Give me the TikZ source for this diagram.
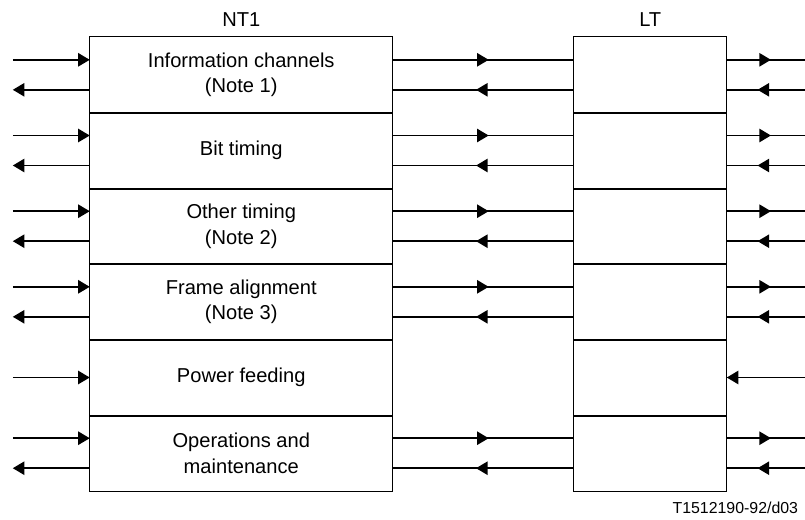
\documentclass[tikz,border=0pt]{standalone}
\usepackage{fontspec}
\setmainfont{Liberation Sans}
\usetikzlibrary{arrows.meta}
\usetikzlibrary{calc}
\usetikzlibrary{decorations.markings}

\begin{document}
\begin{tikzpicture}[x=0.25mm, y=-0.25mm, font=\fontsize{14.3}{18.4}\selectfont,
    cell/.style={rectangle, inner sep=0pt, minimum width=75.6mm, minimum height=18.92mm, align=center},
    ltcell/.style={cell, minimum width=38.1mm},
    outline/.style={line width=0.7pt},
    divider/.style={line width=1.4pt},
    sig/.style={line width=1.4pt},
    endtip/.style={-{Triangle[length=2.9mm, width=3.3mm]}},
    midtip/.style={postaction={decorate}, decoration={markings, mark=at position #1 with {\arrow{Triangle[length=2.9mm, width=3.3mm]}}}}]
  \useasboundingbox (0,0) rectangle (805,519);

  \node (nthead) at (241.25,20) {NT1};
  \node (lthead) at (650.25,20) {LT};

  \node[cell] (nt1) at (241.25,74.8) {Information channels\\(Note 1)};
  \node[cell] (nt2) at (241.25,150.5) {Bit timing};
  \node[cell] (nt3) at (241.25,226.2) {Other timing\\(Note 2)};
  \node[cell] (nt4) at (241.25,301.8) {Frame alignment\\(Note 3)};
  \node[cell] (nt5) at (241.25,377.5) {Power feeding};
  \node[cell] (nt6) at (241.25,453.2) {Operations and\\maintenance};

  \foreach \i/\y in {1/74.8, 2/150.5, 3/226.2, 4/301.8, 5/377.5, 6/453.2}
    \node[ltcell] (lt\i) at (650.25,\y) {};

  \draw[outline] (nt1.north west) rectangle (nt6.south east);
  \draw[outline] (lt1.north west) rectangle (lt6.south east);
  \foreach \i in {1,...,5} {
    \draw[divider] (nt\i.south west) -- (nt\i.south east);
    \draw[divider] (lt\i.south west) -- (lt\i.south east);
  }

  % two-way signals
  \foreach \i in {1,2,3,4,6} {
    \coordinate (inA\i) at ($(nt\i.west)+(-77,-15)$);
    \coordinate (inB\i) at ($(nt\i.west)+(-77,15)$);
    \coordinate (outA\i) at ($(lt\i.east)+(79,-15)$);
    \coordinate (outB\i) at ($(lt\i.east)+(79,15)$);
    \draw[sig, endtip] (inA\i) -- (nt\i.west |- inA\i);
    \draw[sig, endtip] (nt\i.west |- inB\i) -- (inB\i);
    \draw[sig, midtip=0.53] ($(nt\i.east)+(0,-15)$) -- ($(lt\i.west)+(0,-15)$);
    \draw[sig, midtip=0.54] ($(lt\i.west)+(0,15)$) -- ($(nt\i.east)+(0,15)$);
    \draw[sig, midtip=0.56] ($(lt\i.east)+(0,-15)$) -- (outA\i);
    \draw[sig, midtip=0.61] (outB\i) -- ($(lt\i.east)+(0,15)$);
  }

  % power feeding
  \coordinate (inA5) at ($(nt5.west)+(-77,0)$);
  \coordinate (outB5) at ($(lt5.east)+(79,0)$);
  \draw[sig, endtip] (inA5) -- (nt5.west);
  \draw[sig, endtip] (outB5) -- (lt5.east);

  \node[anchor=east, font=\fontsize{11.3}{13}\selectfont] (figcode) at (803,508) {T1512190-92/d03};
\end{tikzpicture}
\end{document}
